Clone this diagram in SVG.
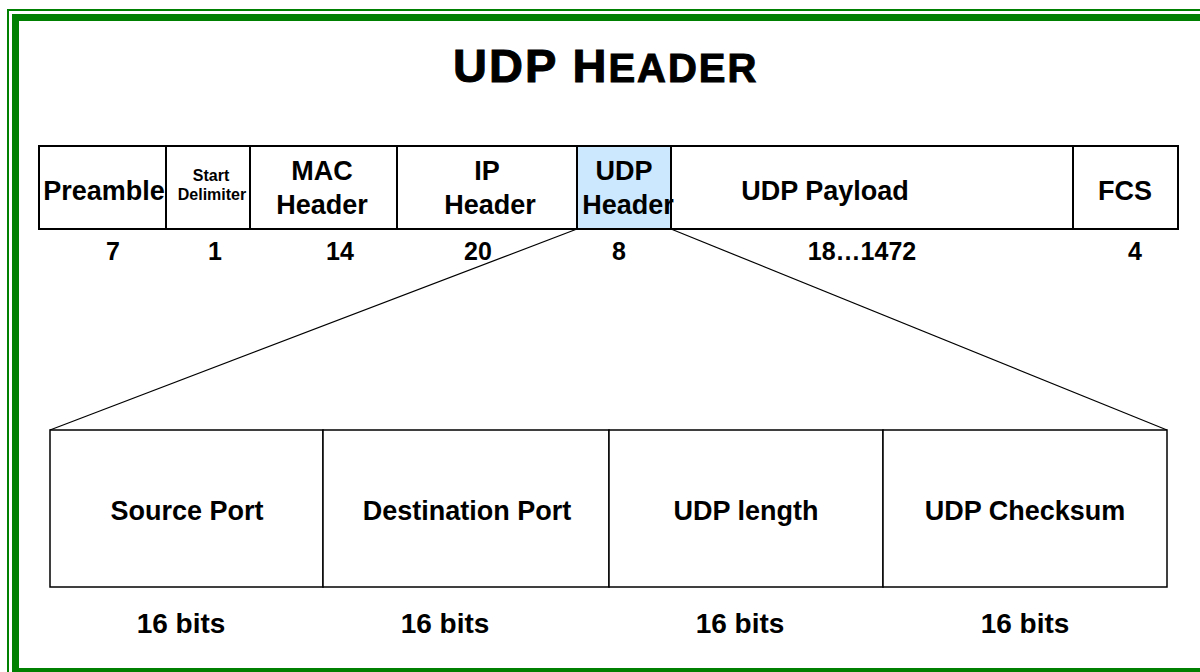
<svg xmlns="http://www.w3.org/2000/svg" width="1200" height="672" viewBox="0 0 1200 672">
  <style>
    .t { font-family: "Liberation Sans", Arial, sans-serif; font-weight: bold; fill: #000; text-anchor: middle; }
    .lbl { font-size: 27px; }
    .small { font-size: 16px; }
    .num { font-size: 25px; }
    .fld { font-size: 27px; }
    .bits { font-size: 28px; }
    .cell { fill: #fff; stroke: #000; stroke-width: 2; }
    .field { fill: #fff; stroke: #000; stroke-width: 1.5; }
    .link { stroke: #000; stroke-width: 1.2; fill: none; }
  </style>

  <rect width="1200" height="672" fill="#fff"/>

  <!-- double green page frame -->
  <g id="frame" fill="none" stroke="#008000">
    <rect x="8" y="10" width="1220" height="680" stroke-width="2"/>
    <rect x="15.5" y="17.5" width="1210" height="654" stroke-width="7"/>
  </g>

  <!-- title -->
  <g id="title">
    <text class="t" x="453" y="82" stroke="#000" stroke-width="1" style="text-anchor:start; letter-spacing:2px"><tspan font-size="47">UDP H</tspan><tspan font-size="40">EADER</tspan></text>
  </g>

  <!-- connectors fanning out from the UDP header cell -->
  <g id="connectors">
    <line class="link" x1="577" y1="229" x2="50" y2="430"/>
    <line class="link" x1="671" y1="229" x2="1167" y2="430"/>
  </g>

  <!-- Ethernet frame row -->
  <g id="preamble">
    <rect class="cell" x="39" y="146" width="127" height="83"/>
    <text class="t lbl" x="104" y="200">Preamble</text>
    <text class="t num" x="113" y="260">7</text>
  </g>
  <g id="start-delimiter">
    <rect class="cell" x="166" y="146" width="84" height="83"/>
    <text class="t small" x="211" y="181">Start</text>
    <text class="t small" x="212" y="200">Delimiter</text>
    <text class="t num" x="215" y="260">1</text>
  </g>
  <g id="mac-header">
    <rect class="cell" x="250" y="146" width="147" height="83"/>
    <text class="t lbl" x="322" y="180">MAC</text>
    <text class="t lbl" x="322" y="214">Header</text>
    <text class="t num" x="340" y="260">14</text>
  </g>
  <g id="ip-header">
    <rect class="cell" x="397" y="146" width="180" height="83"/>
    <text class="t lbl" x="487" y="180">IP</text>
    <text class="t lbl" x="490" y="214">Header</text>
    <text class="t num" x="478" y="260">20</text>
  </g>
  <g id="udp-payload">
    <rect class="cell" x="671" y="146" width="402" height="83"/>
    <text class="t lbl" x="825" y="200">UDP Payload</text>
    <text class="t num" x="862" y="260">18…1472</text>
  </g>
  <g id="fcs">
    <rect class="cell" x="1073" y="146" width="105" height="83"/>
    <text class="t lbl" x="1125" y="200">FCS</text>
    <text class="t num" x="1135" y="260">4</text>
  </g>
  <g id="udp-header">
    <rect class="cell" x="577" y="146" width="94" height="83" style="fill:#cce8ff"/>
    <text class="t lbl" x="624" y="180">UDP</text>
    <text class="t lbl" x="628" y="214">Header</text>
    <text class="t num" x="619" y="260">8</text>
  </g>

  <!-- UDP header fields -->
  <g id="source-port">
    <rect class="field" x="50" y="430" width="273" height="157"/>
    <text class="t fld" x="187" y="520">Source Port</text>
    <text class="t bits" x="181" y="633">16 bits</text>
  </g>
  <g id="destination-port">
    <rect class="field" x="323" y="430" width="286" height="157"/>
    <text class="t fld" x="467" y="520">Destination Port</text>
    <text class="t bits" x="445" y="633">16 bits</text>
  </g>
  <g id="udp-length">
    <rect class="field" x="609" y="430" width="274" height="157"/>
    <text class="t fld" x="746" y="520">UDP length</text>
    <text class="t bits" x="740" y="633">16 bits</text>
  </g>
  <g id="udp-checksum">
    <rect class="field" x="883" y="430" width="284" height="157"/>
    <text class="t fld" x="1025" y="520">UDP Checksum</text>
    <text class="t bits" x="1025" y="633">16 bits</text>
  </g>
</svg>
